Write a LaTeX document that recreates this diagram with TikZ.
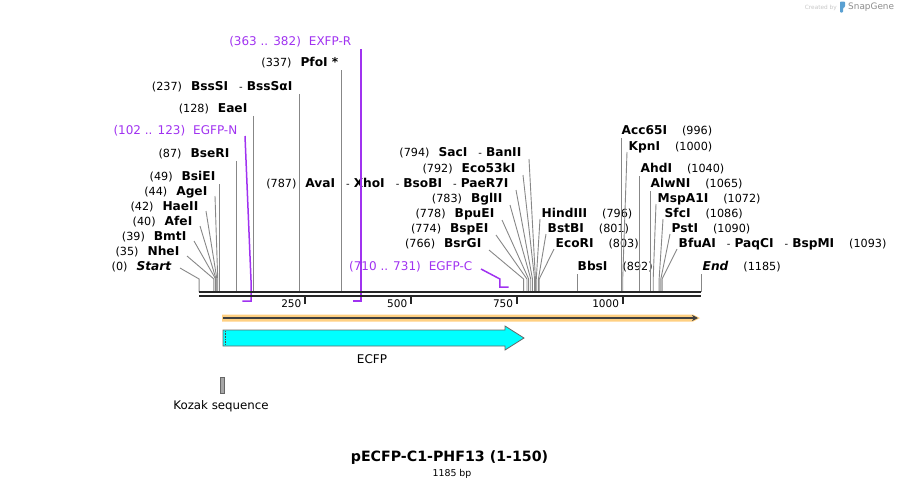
\documentclass[tikz,border=0pt]{standalone}
\usepackage{fontspec}
\setmainfont{DejaVu Sans}
\usetikzlibrary{calc,arrows.meta}
\definecolor{primerc}{RGB}{160,50,240}
\definecolor{cutc}{RGB}{135,135,135}
\definecolor{orfc}{RGB}{255,208,130}
\definecolor{ecfpc}{RGB}{0,255,255}
\definecolor{sgblue}{RGB}{90,160,210}
\newcommand{\enz}[1]{{\fontsize{12.2}{14}\selectfont\bfseries #1}}
\newcommand{\bpno}[1]{{\fontsize{11.2}{13}\selectfont #1}}
\newcommand{\orsep}{\hspace{11pt}-\hspace{4pt}}

\begin{document}
\begin{tikzpicture}[x=1pt,y=-1pt,
  lsite/.style={inner sep=1.5pt,anchor=east},
  rsite/.style={inner sep=1.5pt,anchor=west},
  plbl/.style={inner sep=1.5pt,anchor=east,text=primerc,font=\fontsize{12}{14}\selectfont},
  cut/.style={cutc,line width=0.9pt},
  primer/.style={primerc,line width=1.5pt},
  bb/.style={black!85,line width=2.4pt}]
\useasboundingbox (0,0) rectangle (902,488);

% cut sites on the backbone (x from bp)
\foreach \bp in {0,35,39,40,42,44,49,87,128,237,337,766,774,778,783,787,792,794,796,801,803,892,996,1000,1040,1065,1072,1086,1090,1093,1185} {
  \coordinate (s\bp) at ({199.1+0.4236*\bp},292);
  \coordinate (k\bp) at ({199.1+0.4236*\bp},279);
}

% left group
\node[lsite] (b0) at (173,267) {\bpno{(0)}\hspace{9pt}\enz{\itshape Start}};
\node[lsite] (b35) at (181,252) {\bpno{(35)}\hspace{9pt}\enz{NheI}};
\node[lsite] (b39) at (188,237) {\bpno{(39)}\hspace{9pt}\enz{BmtI}};
\node[lsite] (b40) at (194,222) {\bpno{(40)}\hspace{9pt}\enz{AfeI}};
\node[lsite] (b42) at (200,207) {\bpno{(42)}\hspace{9pt}\enz{HaeII}};
\node[lsite] (b44) at (209,192) {\bpno{(44)}\hspace{9pt}\enz{AgeI}};
\node[lsite] (b49) at (217,177) {\bpno{(49)}\hspace{9pt}\enz{BsiEI}};
\node[lsite] (b87) at (231,154) {\bpno{(87)}\hspace{9pt}\enz{BseRI}};
\node[lsite] (b128) at (249,109) {\bpno{(128)}\hspace{9pt}\enz{EaeI}};
\node[lsite] (b237) at (294,87) {\bpno{(237)}\hspace{9pt}\enz{BssSI}\orsep\enz{BssSαI}};
\node[lsite] (b337) at (340,63) {\bpno{(337)}\hspace{9pt}\enz{PfoI *}};

% middle group
\node[lsite] (b794) at (523,153) {\bpno{(794)}\hspace{9pt}\enz{SacI}\orsep\enz{BanII}};
\node[lsite] (b792) at (517,169) {\bpno{(792)}\hspace{9pt}\enz{Eco53kI}};
\node[lsite] (b787) at (510,184) {\bpno{(787)}\hspace{9pt}\enz{AvaI}\orsep\enz{XhoI}\orsep\enz{BsoBI}\orsep\enz{PaeR7I}};
\node[lsite] (b783) at (504,199) {\bpno{(783)}\hspace{9pt}\enz{BglII}};
\node[lsite] (b778) at (496,214) {\bpno{(778)}\hspace{9pt}\enz{BpuEI}};
\node[lsite] (b774) at (490,229) {\bpno{(774)}\hspace{9pt}\enz{BspEI}};
\node[lsite] (b766) at (483,244) {\bpno{(766)}\hspace{9pt}\enz{BsrGI}};

% right group
\node[rsite] (b796) at (540,214) {\enz{HindIII}\hspace{15pt}\bpno{(796)}};
\node[rsite] (b801) at (546,229) {\enz{BstBI}\hspace{15pt}\bpno{(801)}};
\node[rsite] (b803) at (554,244) {\enz{EcoRI}\hspace{15pt}\bpno{(803)}};
\node[rsite] (b892) at (576,267) {\enz{BbsI}\hspace{15pt}\bpno{(892)}};
\node[rsite] (b996) at (620,131) {\enz{Acc65I}\hspace{15pt}\bpno{(996)}};
\node[rsite] (b1000) at (627,147) {\enz{KpnI}\hspace{15pt}\bpno{(1000)}};
\node[rsite] (b1040) at (639,169) {\enz{AhdI}\hspace{15pt}\bpno{(1040)}};
\node[rsite] (b1065) at (649,184) {\enz{AlwNI}\hspace{15pt}\bpno{(1065)}};
\node[rsite] (b1072) at (656,199) {\enz{MspA1I}\hspace{15pt}\bpno{(1072)}};
\node[rsite] (b1086) at (663,214) {\enz{SfcI}\hspace{15pt}\bpno{(1086)}};
\node[rsite] (b1090) at (670,229) {\enz{PstI}\hspace{15pt}\bpno{(1090)}};
\node[rsite] (b1093) at (677,244) {\enz{BfuAI}\orsep\enz{PaqCI}\orsep\enz{BspMI}\hspace{15pt}\bpno{(1093)}};
\node[rsite] (b1185) at (701,267) {\enz{\itshape End}\hspace{15pt}\bpno{(1185)}};

% cut lines
\draw[cut] ($(b0.east)+(7,1)$) -- (k0) -- (s0);
\foreach \bp in {35,39,40,42,44} \draw[cut] ($(b\bp.east)+(6,4)$) -- (k\bp) -- (s\bp);
\foreach \bp in {766,774,778,783,787,792,794} \draw[cut] ($(b\bp.east)+(6,6)$) -- (k\bp) -- (s\bp);
\foreach \bp in {796,801,803,1000,1072,1086,1090,1093} \draw[cut] ($(b\bp.west)+(0,5)$) -- (k\bp) -- (s\bp);
\foreach \bp in {49,87,128,237,337,892,996,1040,1065,1185} \draw[cut] (s\bp |- b\bp.south) -- (s\bp);

% primers
\node[plbl] (pR) at (353,42) {(363 .. 382)\hspace{8pt}EXFP-R};
\node[plbl] (pN) at (239,131) {(102 .. 123)\hspace{8pt}EGFP-N};
\node[plbl] (pC) at (474,267) {(710 .. 731)\hspace{8pt}EGFP-C};
\coordinate (pRa) at (360.9,301);
\coordinate (pRb) at (352.8,301);
\coordinate (pNk) at (251.2,285);
\coordinate (pNa) at (251.2,301);
\coordinate (pNb) at (242.3,301);
\coordinate (pCk) at (499.9,279);
\coordinate (pCa) at (499.9,287);
\coordinate (pCb) at (508.7,287);
\draw[primer] (pRa |- pR.south) -- (pRa) -- (pRb);
\draw[primer] ($(pN.east)+(6,5)$) -- (pNk) -- (pNa) -- (pNb);
\draw[primer] ($(pC.east)+(7,2)$) -- (pCk) -- (pCa) -- (pCb);

% backbone and scale
\draw[bb] (s0) -- (s1185);
\draw[bb] ($(s0)+(0,4)$) -- ($(s1185)+(0,4)$);
\foreach \tk in {250,500,750,1000} {
  \coordinate (t\tk) at ({199.1+0.4236*\tk},296);
  \draw[black!85,line width=2pt] (t\tk) -- ++(0,8);
  \node[anchor=east,inner sep=0pt,font=\fontsize{10.5}{12}\selectfont] (n\tk) at ($(t\tk)+(-3.5,8)$) {\tk};
}

% ORF
\fill[orfc] (222,314.5) -- (693,314.5) -- (700,318) -- (693,321.5) -- (222,321.5) -- cycle;
\draw[black!75,line width=1.8pt,-{Stealth[length=6pt,width=6pt]}] (223,318) -- (698,318);

% features
\filldraw[fill=ecfpc,draw=black!60,line width=0.8pt] (223,330) -- (505,330) -- (505,326) -- (524,338) -- (505,350) -- (505,346) -- (223,346) -- cycle;
\draw[black!70,densely dotted,line width=0.6pt] (225,331) -- (225,345);
\node[font=\fontsize{12}{14}\selectfont] (ecfp) at (372,359) {ECFP};
\filldraw[fill=black!35,draw=black!60,line width=0.8pt] (220,377) rectangle (224.5,393);
\node[font=\fontsize{11.8}{14}\selectfont] (kozak) at (221,406) {Kozak sequence};

% title
\node[font=\fontsize{14.2}{16}\selectfont\bfseries] (title) at (449.5,458) {pECFP-C1-PHF13 (1-150)};
\node[font=\fontsize{9.4}{11}\selectfont] (len) at (452,474) {1185 bp};

% SnapGene mark
\node[anchor=east,inner sep=0pt,text=black!22,font=\fontsize{5.8}{7}\selectfont] (cby) at (837,7.5) {Created by};
\fill[sgblue,rounded corners=0.8pt] (840,1.5) -- (845,1.5) -- (845,7) -- (843,8) -- (843,12.5) -- (840,12.5) -- cycle;
\node[anchor=west,inner sep=0pt,text=black!45,font=\fontsize{8.9}{10}\selectfont] (sg) at (848,7) {SnapGene};
\end{tikzpicture}
\end{document}
